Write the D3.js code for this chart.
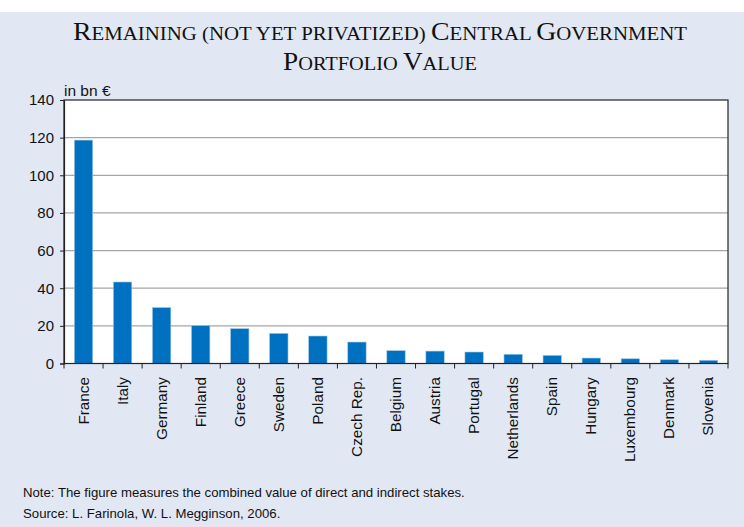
<!DOCTYPE html>
<html>
<head>
<meta charset="utf-8">
<script src="https://cdn.jsdelivr.net/npm/d3@7"></script>
<style>
  body { margin: 0; background: #fff; }
  svg { display: block; }
</style>
</head>
<body>
<div id="chart"></div>
<script>
// chart data
const countries = ["France", "Italy", "Germany", "Finland", "Greece", "Sweden", "Poland",
  "Czech Rep.", "Belgium", "Austria", "Portugal", "Netherlands", "Spain", "Hungary",
  "Luxembourg", "Denmark", "Slovenia"];
const values = [118.7, 43.3, 29.7, 20.1, 18.5, 16.0, 14.6, 11.4, 6.8, 6.6, 6.1, 4.9, 4.3, 2.9, 2.5, 2.0, 1.7];
const yTicks = [0, 20, 40, 60, 80, 100, 120, 140];
const titleLines = ["Remaining (not yet privatized) Central Government", "Portfolio Value"];

const width = 744, height = 527;
const plotLeft = 64, plotRight = 728, plotTop = 100, plotBottom = 363.5;

const svg = d3.select("#chart").append("svg")
  .attr("width", width)
  .attr("height", height);

// light blue panel
svg.append("rect")
  .attr("x", 0).attr("y", 12)
  .attr("width", width).attr("height", height - 12)
  .attr("fill", "#e1e8f4");

// title: hand-made small caps (capitals big, lower case letters as smaller capitals)
const title = svg.append("g")
  .attr("font-family", "'Liberation Serif', 'Times New Roman', serif")
  .attr("fill", "#111");
const titleBox = [{ x: 73, y: 40, w: 614 }, { x: 283, y: 70, w: 194 }];
titleLines.forEach((line, li) => {
  const t = title.append("text")
    .attr("x", titleBox[li].x).attr("y", titleBox[li].y)
    .attr("textLength", titleBox[li].w)
    .attr("lengthAdjust", "spacingAndGlyphs");
  // split into runs of capitals / non-capitals
  const runs = line.match(/[A-Z]+|[^A-Z]+/g);
  runs.forEach(r => {
    const big = /^[A-Z]/.test(r);
    t.append("tspan")
      .attr("font-size", big ? 26 : 19.5)
      .text(r.toUpperCase());
  });
});

const x = d3.scaleBand()
  .domain(countries)
  .range([plotLeft, plotRight])
  .paddingInner(0.53)
  .paddingOuter(0.265);

const y = d3.scaleLinear()
  .domain([0, 140])
  .range([plotBottom, plotTop]);

// plot area
svg.append("rect")
  .attr("x", plotLeft).attr("y", plotTop)
  .attr("width", plotRight - plotLeft).attr("height", plotBottom - plotTop)
  .attr("fill", "#fff");

// gridlines
svg.append("g")
  .selectAll("line")
  .data(yTicks.filter(d => d > 0 && d < 140))
  .join("line")
  .attr("x1", plotLeft).attr("x2", plotRight)
  .attr("y1", d => y(d)).attr("y2", d => y(d))
  .attr("stroke", "#a6a6a6")
  .attr("stroke-width", 1.2);

// bars
svg.append("g")
  .selectAll("rect")
  .data(countries)
  .join("rect")
  .attr("x", d => x(d))
  .attr("width", x.bandwidth())
  .attr("y", (d, i) => y(values[i]))
  .attr("height", (d, i) => y(0) - y(values[i]))
  .attr("fill", "#0070c0")
  .attr("stroke", "#9cc4e6")
  .attr("stroke-width", 0.6);

// frame
svg.append("rect")
  .attr("x", plotLeft).attr("y", plotTop)
  .attr("width", plotRight - plotLeft).attr("height", plotBottom - plotTop)
  .attr("fill", "none")
  .attr("stroke", "#222")
  .attr("stroke-width", 1.2);

// y axis
const yAxis = svg.append("g")
  .attr("transform", `translate(${plotLeft},0)`)
  .call(d3.axisLeft(y).tickValues(yTicks).tickSize(4).tickPadding(6));
yAxis.select(".domain").attr("stroke", "#222").attr("stroke-width", 1.2);
yAxis.selectAll(".tick line").attr("stroke", "#222");
yAxis.selectAll(".tick text")
  .attr("font-family", "'Liberation Sans', Arial, sans-serif")
  .attr("font-size", 15)
  .attr("fill", "#111");

// category boundary ticks
const step = x.step();
svg.append("g")
  .selectAll("line")
  .data(d3.range(countries.length + 1))
  .join("line")
  .attr("x1", i => plotLeft + i * step).attr("x2", i => plotLeft + i * step)
  .attr("y1", plotBottom).attr("y2", plotBottom + 5)
  .attr("stroke", "#222");

// rotated category labels
svg.append("g")
  .selectAll("text")
  .data(countries)
  .join("text")
  .attr("transform", d => `translate(${x(d) + x.bandwidth() / 2 + 5},377) rotate(-90)`)
  .attr("text-anchor", "end")
  .attr("font-family", "'Liberation Sans', Arial, sans-serif")
  .attr("font-size", 15.3)
  .attr("fill", "#111")
  .text(d => d);

// unit label
svg.append("text")
  .attr("x", 64).attr("y", 96)
  .attr("font-family", "'Liberation Sans', Arial, sans-serif")
  .attr("font-size", 15.5)
  .attr("fill", "#111")
  .text("in bn €");

// notes
const notes = svg.append("g")
  .attr("font-family", "'Liberation Sans', Arial, sans-serif")
  .attr("font-size", 13.2)
  .attr("fill", "#111");
notes.append("text").attr("x", 23).attr("y", 497)
  .text("Note: The figure measures the combined value of direct and indirect stakes.");
notes.append("text").attr("x", 23).attr("y", 518)
  .text("Source: L. Farinola, W. L. Megginson, 2006.");
</script>
</body>
</html>
